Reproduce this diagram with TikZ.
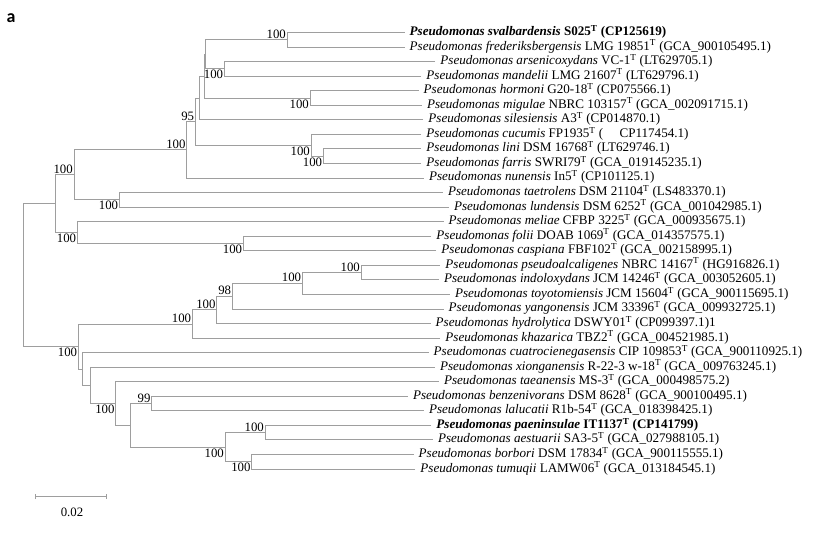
\documentclass[tikz,border=0pt]{standalone}
\usepackage{fontspec}
\setmainfont{Liberation Serif}
\newfontfamily\panelfont{Carlito}
\usepackage{tikz}
\usetikzlibrary{arrows.meta}

\tikzset{
	branch/.style={draw=black!38, line width=0.9bp},
	taxon/.style={anchor=west, inner xsep=5bp, inner ysep=0pt, text height=9bp, text depth=3bp, font=\fontsize{13.15}{14}\selectfont},
	bsup/.style={anchor=south east, inner xsep=1bp, inner ysep=1.3bp, text height=8.6bp, text depth=0pt, font=\fontsize{12.85}{14}\selectfont},
	bsdown/.style={bsup, anchor=north east},
}

\begin{document}
\begin{tikzpicture}[x=1bp,y=-1bp]
	\useasboundingbox (0,0) rectangle (829,538);
	%panel letter
	\node[anchor=base, inner sep=0pt, font=\panelfont\bfseries\fontsize{18}{18}\selectfont] (panel) at (11,23) {a};
	
	%taxa
	\foreach \i/\x/\txt in {
		1/404.5/{\textbf{\textit{Pseudomonas svalbardensis} S025\textsuperscript{T} (CP125619)}},
		2/404.5/{\textit{Pseudomonas frederiksbergensis} LMG 19851\textsuperscript{T} (GCA\_900105495.1)},
		3/435.2/{\textit{Pseudomonas arsenicoxydans} VC-1\textsuperscript{T} (LT629705.1)},
		4/421.2/{\textit{Pseudomonas mandelii} LMG 21607\textsuperscript{T} (LT629796.1)},
		5/418.5/{\textit{Pseudomonas hormoni} G20-18\textsuperscript{T} (CP075566.1)},
		6/421.8/{\textit{Pseudomonas migulae} NBRC 103157\textsuperscript{T} (GCA\_002091715.1)},
		7/423.2/{\textit{Pseudomonas silesiensis} A3\textsuperscript{T} (CP014870.1)},
		8/421.2/{\textit{Pseudomonas cucumis} FP1935\textsuperscript{T} (\hspace{1.25em}CP117454.1)},
		9/421.2/{\textit{Pseudomonas lini} DSM 16768\textsuperscript{T} (LT629746.1)},
		10/421.2/{\textit{Pseudomonas farris} SWRI79\textsuperscript{T} (GCA\_019145235.1)},
		11/423.8/{\textit{Pseudomonas nunensis} In5\textsuperscript{T} (CP101125.1)},
		12/442.8/{\textit{Pseudomonas taetrolens} DSM 21104\textsuperscript{T} (LS483370.1)},
		13/448.8/{\textit{Pseudomonas lundensis} DSM 6252\textsuperscript{T} (GCA\_001042985.1)},
		14/443.5/{\textit{Pseudomonas meliae} CFBP 3225\textsuperscript{T} (GCA\_000935675.1)},
		15/431.2/{\textit{Pseudomonas folii} DOAB 1069\textsuperscript{T} (GCA\_014357575.1)},
		16/436.2/{\textit{Pseudomonas caspiana} FBF102\textsuperscript{T} (GCA\_002158995.1)},
		17/440.2/{\textit{Pseudomonas pseudoalcaligenes} NBRC 14167\textsuperscript{T} (HG916826.1)},
		18/438.8/{\textit{Pseudomonas indoloxydans} JCM 14246\textsuperscript{T} (GCA\_003052605.1)},
		19/449.8/{\textit{Pseudomonas toyotomiensis} JCM 15604\textsuperscript{T} (GCA\_900115695.1)},
		20/443.5/{\textit{Pseudomonas yangonensis} JCM 33396\textsuperscript{T} (GCA\_009932725.1)},
		21/430.5/{\textit{Pseudomonas hydrolytica} DSWY01\textsuperscript{T} (CP099397.1)1},
		22/440.2/{\textit{Pseudomonas khazarica} TBZ2\textsuperscript{T} (GCA\_004521985.1)},
		23/428.5/{\textit{Pseudomonas cuatrocienegasensis} CIP 109853\textsuperscript{T} (GCA\_900110925.1)},
		24/434.8/{\textit{Pseudomonas xionganensis} R-22-3 w-18\textsuperscript{T} (GCA\_009763245.1)},
		25/438.8/{\textit{Pseudomonas taeanensis} MS-3\textsuperscript{T} (GCA\_000498575.2)},
		26/407.8/{\textit{Pseudomonas benzenivorans} DSM 8628\textsuperscript{T} (GCA\_900100495.1)},
		27/423.8/{\textit{Pseudomonas lalucatii} R1b-54\textsuperscript{T} (GCA\_018398425.1)},
		28/431.2/{\textbf{\textit{Pseudomonas paeninsulae} IT1137\textsuperscript{T} (CP141799)}},
		29/432.8/{\textit{Pseudomonas aestuarii} SA3-5\textsuperscript{T} (GCA\_027988105.1)},
		30/413.5/{\textit{Pseudomonas borbori} DSM 17834\textsuperscript{T} (GCA\_900115555.1)},
		31/415.2/{\textit{Pseudomonas tumuqii} LAMW06\textsuperscript{T} (GCA\_013184545.1)}}{
		\node[taxon] (t\i) at (\x,{32.5+14.55*(\i-1)}) {\txt};
	}
	
	%inner nodes, upper clade
	\coordinate (S1) at (287,39.78);
	\coordinate (M) at (224.3,68.88);
	\coordinate (X) at (205.5,54.33);
	\coordinate (H) at (310,97.98);
	\coordinate (Y) at (204.3,76.15);
	\coordinate (N2) at (199,97.98);
	\coordinate (C2) at (323.3,156.18);
	\coordinate (C1) at (311,145.26);
	\coordinate (J) at (195.3,121.62);
	\coordinate (K) at (186.7,149.81);
	\coordinate (T) at (119.3,199.83);
	\coordinate (A1) at (74,174.82);
	\coordinate (F) at (243.3,243.48);
	\coordinate (A2) at (77.3,232.56);
	\coordinate (A) at (55.3,203.69);
	%inner nodes, lower clade
	\coordinate (P5) at (361,272.58);
	\coordinate (P4) at (302.3,283.49);
	\coordinate (P3) at (232.3,296.22);
	\coordinate (P2) at (216.7,309.86);
	\coordinate (P1) at (192.3,323.96);
	\coordinate (Q5) at (151.7,403.53);
	\coordinate (Q7) at (265,432.63);
	\coordinate (Q8) at (251.7,461.73);
	\coordinate (Q6) at (225,447.18);
	\coordinate (Q4) at (130.7,425.36);
	\coordinate (Q3) at (115.7,403.53);
	\coordinate (Q2) at (90,385.34);
	\coordinate (Q1) at (82.7,368.97);
	\coordinate (B) at (78.3,346.47);
	%root
	\coordinate (R) at (23.3,275.08);
	
	%branches
	\foreach \c/\p in {t1.west/S1, t2.west/S1, t3.west/M, t4.west/M, S1/X, M/X,
		t5.west/H, t6.west/H, X/Y, H/Y, Y/N2, t7.west/N2,
		t9.west/C2, t10.west/C2, t8.west/C1, C2/C1, N2/J, C1/J, J/K, t11.west/K,
		t12.west/T, t13.west/T, K/A1, T/A1, t15.west/F, t16.west/F, t14.west/A2, F/A2,
		A1/A, A2/A,
		t17.west/P5, t18.west/P5, P5/P4, t19.west/P4, P4/P3, t20.west/P3,
		P3/P2, t21.west/P2, P2/P1, t22.west/P1,
		t26.west/Q5, t27.west/Q5, t28.west/Q7, t29.west/Q7, t30.west/Q8, t31.west/Q8,
		Q7/Q6, Q8/Q6, Q5/Q4, Q6/Q4, t25.west/Q3, Q4/Q3, t24.west/Q2, Q3/Q2,
		t23.west/Q1, Q2/Q1, P1/B, Q1/B, A/R, B/R}{
		\draw[branch] (\c) -| (\p);
	}
	
	%bootstrap values
	\foreach \n/\v in {S1/100, J/95, K/100, A1/100, P5/100, P4/100, P3/98, P2/100, P1/100, Q5/99, Q7/100}{
		\node[bsup] (b\n) at (\n) {\v};
	}
	\foreach \n/\v in {M/100, H/100, C1/100, C2/100, T/100, A2/100, F/100, B/100, Q3/100, Q6/100, Q8/100}{
		\node[bsdown] (b\n) at (\n) {\v};
	}
	
	%scale bar
	\coordinate (sb1) at (35,496.7);
	\coordinate (sb2) at (106.7,496.7);
	\draw[branch, {Bar[width=5bp]}-{Bar[width=5bp]}] (sb1) -- (sb2);
	\node[anchor=base, inner sep=0pt, font=\fontsize{12.85}{14}\selectfont] (sbl) at (72,516.7) {0.02};
\end{tikzpicture}
\end{document}
